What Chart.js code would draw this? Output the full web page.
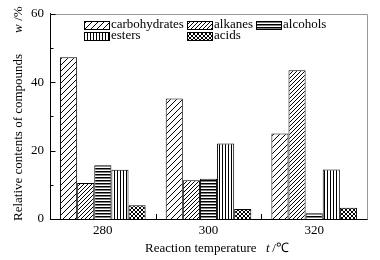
<!DOCTYPE html>
<html>
<head>
<meta charset="utf-8">
<script src="https://cdn.jsdelivr.net/npm/chart.js@4/dist/chart.umd.min.js"></script>
<style>
  body { margin: 0; background: #fff; }
</style>
</head>
<body>
<canvas id="myChart" width="380" height="260"></canvas>
<script>
const temps = ['280', '300', '320'];
const seriesNames = ['carbohydrates', 'alkanes', 'alcohols', 'esters', 'acids'];
const carbohydrates = [47.3, 35.2, 25.0];
const alkanes = [10.5, 11.3, 43.5];
const alcohols = [15.7, 11.8, 1.7];
const esters = [14.4, 22.1, 14.5];
const acids = [4.0, 2.9, 3.3];
const yTicks = [0, 20, 40, 60];
const yMinor = [10, 30, 50];

const FONT = '"Liberation Serif", "Times New Roman", serif';

function makePattern(size, paint) {
  const c = document.createElement('canvas');
  c.width = size; c.height = size;
  const g = c.getContext('2d');
  g.fillStyle = '#fff';
  g.fillRect(0, 0, size, size);
  g.strokeStyle = '#000';
  g.fillStyle = '#000';
  g.lineWidth = 1;
  paint(g, size);
  return g.createPattern(c, 'repeat');
}

function diag(g, s) {
  g.beginPath();
  g.moveTo(0, s); g.lineTo(s, 0);
  g.moveTo(-1, 1); g.lineTo(1, -1);
  g.moveTo(s - 1, s + 1); g.lineTo(s + 1, s - 1);
  g.stroke();
}

const patterns = [
  makePattern(6, diag),
  makePattern(4, diag),
  makePattern(3, (g, s) => g.fillRect(0, 0, s, 1.5)),
  makePattern(3, (g, s) => g.fillRect(0, 0, 1, s)),
  makePattern(4, (g, s) => {
    diag(g, s);
    g.beginPath();
    g.moveTo(0, 0); g.lineTo(s, s);
    g.moveTo(-1, s - 1); g.lineTo(1, s + 1);
    g.moveTo(s - 1, -1); g.lineTo(s + 1, 1);
    g.stroke();
  })
];

const values = [carbohydrates, alkanes, alcohols, esters, acids];

// legend slots inside the plot
const legendPos = [[84, 25], [187, 25], [256, 25], [84, 36], [187, 36]];

const decor = {
  id: 'decor',
  beforeDatasetsDraw(chart) {
    const g = chart.ctx;
    const x = chart.scales.x;
    const area = chart.chartArea;
    g.save();
    g.strokeStyle = '#000';
    g.lineWidth = 1;
    g.beginPath();
    temps.forEach((t, i) => {
      const px = Math.round(x.getPixelForValue(i)) + 0.5;
      g.moveTo(px, area.bottom); g.lineTo(px, area.bottom - 4);
    });
    g.stroke();
    g.restore();
  },
  afterDraw(chart) {
    const g = chart.ctx;
    const area = chart.chartArea;
    const x = chart.scales.x;
    const y = chart.scales.y;
    g.save();
    // frame
    g.strokeStyle = '#999';
    g.lineWidth = 1;
    g.beginPath();
    g.moveTo(Math.round(area.left) + 0.5, Math.round(area.top) + 0.5);
    g.lineTo(Math.round(area.right) + 0.5, Math.round(area.top) + 0.5);
    g.lineTo(Math.round(area.right) + 0.5, Math.round(area.bottom) + 0.5);
    g.stroke();
    // inward ticks
    g.strokeStyle = '#000';
    g.beginPath();
    const lx = Math.round(area.left) + 0.5;
    yTicks.forEach(v => {
      const py = Math.round(y.getPixelForValue(v)) + 0.5;
      g.moveTo(lx, py); g.lineTo(lx + 5, py);
    });
    yMinor.forEach(v => {
      const py = Math.round(y.getPixelForValue(v)) + 0.5;
      g.moveTo(lx, py); g.lineTo(lx + 3, py);
    });
    for (let i = 0; i < temps.length - 1; i++) {
      const px = Math.round((x.getPixelForValue(i) + x.getPixelForValue(i + 1)) / 2) + 0.5;
      g.moveTo(px, area.bottom); g.lineTo(px, area.bottom - 5);
    }
    g.stroke();

    // legend
    g.font = '13px ' + FONT;
    g.textBaseline = 'middle';
    g.textAlign = 'left';
    g.fillStyle = '#000';
    seriesNames.forEach((name, i) => {
      const [bx, by] = legendPos[i];
      g.fillStyle = patterns[i];
      g.fillRect(bx, by - 4, 25, 8);
      g.strokeStyle = '#000';
      g.strokeRect(bx + 0.5, by - 4 + 0.5, 25, 8);
      g.fillStyle = '#000';
      g.fillText(name, bx + 27, by);
    });

    // x title
    g.textBaseline = 'alphabetic';
    g.font = '13px ' + FONT;
    g.fillText('Reaction temperature', 145, 252);
    g.font = 'italic 13px ' + FONT;
    g.fillText('t', 266, 252);
    g.font = '13px ' + FONT;
    g.fillText(' /\u2103', 269, 252);

    // y title
    g.translate(22, 0);
    g.rotate(-Math.PI / 2);
    g.font = '13px ' + FONT;
    g.fillText('Relative contents of compounds', -221, 0);
    g.font = 'italic 13px ' + FONT;
    g.fillText('w', -33, 0);
    g.font = '13px ' + FONT;
    g.fillText(' /%', -24, 0);
    g.restore();
  }
};

const ctx = document.getElementById('myChart');

new Chart(ctx, {
  type: 'bar',
  data: {
    labels: temps,
    datasets: seriesNames.map((name, i) => ({
      label: name,
      data: values[i],
      backgroundColor: patterns[i],
      borderColor: '#000',
      borderWidth: 1,
      borderSkipped: 'bottom',
      barPercentage: 1,
      categoryPercentage: 0.81
    }))
  },
  options: {
    responsive: false,
    animation: false,
    layout: { padding: { left: 0, right: 13, top: 12, bottom: 0 } },
    plugins: {
      legend: { display: false },
      tooltip: { enabled: false }
    },
    scales: {
      x: {
        grid: { display: false, drawTicks: false },
        border: { color: '#000' },
        ticks: { color: '#000', font: { family: FONT, size: 13 }, padding: 4 },
        afterFit: s => { s.height = 41; }
      },
      y: {
        min: 0,
        max: 60,
        grid: { display: false, drawTicks: false },
        border: { color: '#000' },
        ticks: { stepSize: 20, color: '#000', font: { family: FONT, size: 13 }, padding: 6 },
        afterFit: s => { s.width = 50; }
      }
    }
  },
  plugins: [decor]
});
</script>
</body>
</html>
